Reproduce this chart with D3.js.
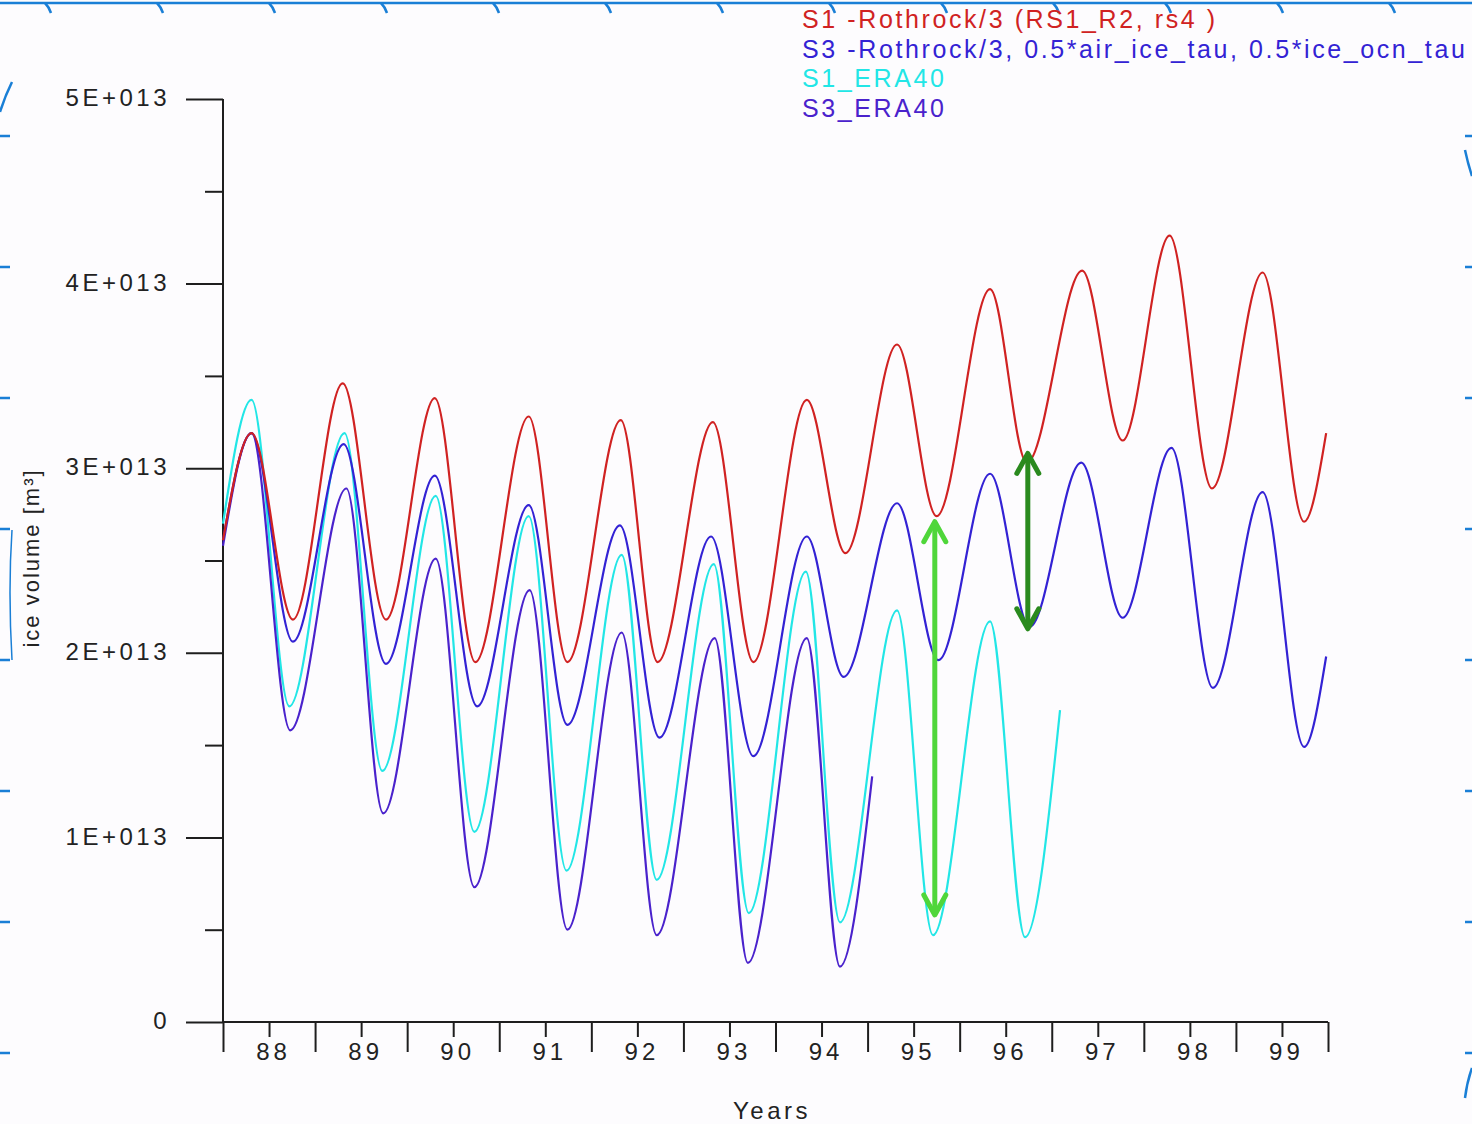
<!DOCTYPE html>
<html><head><meta charset="utf-8">
<script src="https://cdn.jsdelivr.net/npm/d3@7"></script>
<style>
html,body{margin:0;padding:0;background:#fdfcfe;}
svg{display:block;}
text{font-family:"Liberation Sans", Arial, sans-serif;}
</style></head><body>
<svg id="chart" width="1472" height="1124"></svg>
<script>
// ---------- data (values in units of 1E+013 m^3, time in decimal years) ----------
const yearTicks = [1988,1989,1990,1991,1992,1993,1994,1995,1996,1997,1998,1999,2000];
const yearLabels = ["88","89","90","91","92","93","94","95","96","97","98","99"];
const valueTicks = [0,1,2,3,4,5];
const valueLabels = ["0","1E+013","2E+013","3E+013","4E+013","5E+013"];
const valueMinorTicks = [0.5,1.5,2.5,3.5,4.5];

const seriesNames = [
  "S1 -Rothrock/3 (RS1_R2, rs4 )",
  "S3 -Rothrock/3, 0.5*air_ice_tau, 0.5*ice_ocn_tau",
  "S1_ERA40",
  "S3_ERA40"
];

const s1Rothrock = [
  [1988.00,2.61],[1988.31,3.19],[1988.76,2.18],[1989.30,3.46],[1989.77,2.18],
  [1990.30,3.38],[1990.74,1.95],[1991.32,3.28],[1991.74,1.95],[1992.32,3.26],
  [1992.72,1.95],[1993.32,3.25],[1993.76,1.95],[1994.34,3.37],[1994.76,2.54],
  [1995.32,3.67],[1995.75,2.74],[1996.33,3.97],[1996.73,3.03],[1997.33,4.07],
  [1997.77,3.15],[1998.28,4.26],[1998.74,2.89],[1999.29,4.06],[1999.74,2.71],
  [1999.98,3.19]
];
const s3Rothrock = [
  [1988.00,2.61],[1988.31,3.19],[1988.76,2.06],[1989.31,3.13],[1989.77,1.94],
  [1990.30,2.96],[1990.76,1.71],[1991.32,2.80],[1991.74,1.61],[1992.31,2.69],
  [1992.74,1.54],[1993.30,2.63],[1993.76,1.44],[1994.34,2.63],[1994.74,1.87],
  [1995.32,2.81],[1995.77,1.96],[1996.33,2.97],[1996.76,2.14],[1997.32,3.03],
  [1997.77,2.19],[1998.30,3.11],[1998.75,1.81],[1999.29,2.87],[1999.74,1.49],
  [1999.98,1.98]
];
const s1Era40 = [
  [1988.00,2.70],[1988.31,3.37],[1988.72,1.71],[1989.32,3.19],[1989.73,1.36],
  [1990.31,2.85],[1990.73,1.03],[1991.32,2.74],[1991.73,0.82],[1992.33,2.53],
  [1992.71,0.77],[1993.33,2.48],[1993.71,0.59],[1994.33,2.44],[1994.70,0.54],
  [1995.32,2.23],[1995.71,0.47],[1996.33,2.17],[1996.71,0.46],[1997.09,1.69]
];
const s3Era40 = [
  [1988.00,2.58],[1988.31,3.19],[1988.73,1.58],[1989.34,2.89],[1989.74,1.13],
  [1990.31,2.51],[1990.73,0.73],[1991.33,2.34],[1991.74,0.50],[1992.33,2.11],
  [1992.71,0.47],[1993.34,2.08],[1993.70,0.32],[1994.34,2.08],[1994.70,0.30],
  [1995.05,1.33]
];
// annotation arrows: [year, top value, bottom value]
const arrowLight = [1995.73, 2.71, 0.58];
const arrowDark  = [1996.74, 3.08, 2.13];

// ---------- drawing ----------
const svg = d3.select("#chart");
const W = 1472, H = 1124;
const x = d3.scaleLinear().domain([1988,2000]).range([223,1328]);
const y = d3.scaleLinear().domain([0,5]).range([1022,99]);

const AX = "#1e1e1e";
const FONT = 24;

// frame decorations (blue slide border)
const deco = svg.append("g").attr("stroke","#1a7fd6").attr("fill","none").attr("stroke-width",2.5);
deco.append("line").attr("x1",0).attr("x2",W).attr("y1",3).attr("y2",3);
d3.range(8).forEach(i=>{
  const yy = 136 + i*131;
  deco.append("line").attr("x1",0).attr("x2",10).attr("y1",yy).attr("y2",yy);
  deco.append("line").attr("x1",1465).attr("x2",W).attr("y1",yy).attr("y2",yy);
});
d3.range(13).forEach(i=>{
  const xx = 45 + i*112;
  deco.append("path").attr("d",`M${xx},3 q4,4 6,10`);
});
deco.append("path").attr("d","M0,112 q5,-16 12,-30");
deco.append("path").attr("d","M1465,150 q3,14 7,26");
deco.append("path").attr("d","M1472,1068 q-5,14 -7,30");
deco.append("path").attr("d","M12,530 q-4,60 0,130").attr("stroke-width",1.5);

// axes
const gx = svg.append("g").attr("transform","translate(0,1022)");
gx.call(d3.axisBottom(x).tickValues(yearTicks).tickSize(30).tickSizeOuter(0).tickFormat(""));
const gxm = svg.append("g").attr("transform","translate(0,1022)");
gxm.call(d3.axisBottom(x).tickValues(yearLabels.map((d,i)=>yearTicks[i]+0.5))
  .tickSize(15).tickSizeOuter(0).tickPadding(4).tickFormat((d,i)=>yearLabels[i]));
gxm.select(".domain").remove();
gx.select(".domain").remove();

const gy = svg.append("g").attr("transform","translate(223,0)");
gy.call(d3.axisLeft(y).tickValues(valueTicks).tickSize(37).tickSizeOuter(0).tickPadding(16)
  .tickFormat((d,i)=>valueLabels[i]));
const gym = svg.append("g").attr("transform","translate(223,0)");
gym.call(d3.axisLeft(y).tickValues(valueMinorTicks).tickSize(18).tickSizeOuter(0).tickFormat(""));
gym.select(".domain").remove();
gy.select(".domain").remove();

// axis lines
svg.append("line").attr("x1",x(1988)).attr("x2",x(1988)).attr("y1",y(5)).attr("y2",y(0))
  .attr("stroke",AX).attr("stroke-width",2);
svg.append("line").attr("x1",x(1988)).attr("x2",x(2000)).attr("y1",y(0)).attr("y2",y(0))
  .attr("stroke",AX).attr("stroke-width",2);

[gx,gxm,gy,gym].forEach(g=>{
  g.selectAll(".tick line").attr("stroke",AX).attr("stroke-width",2);
  g.selectAll("text").attr("font-family","Liberation Sans, Arial, sans-serif")
    .attr("font-size",FONT).attr("fill","#222");
});
gy.selectAll("text").attr("letter-spacing",3.5).attr("dy","0.28em");
gxm.selectAll("text").attr("letter-spacing",4).attr("dy","0.8em").attr("dx",4);

// axis titles
svg.append("text").attr("x",772).attr("y",1119).attr("text-anchor","middle")
  .attr("font-size",FONT).attr("letter-spacing",3.5).attr("fill","#222").text("Years");
svg.append("text").attr("transform","translate(39,558) rotate(-90)").attr("text-anchor","middle")
  .attr("font-size",22).attr("letter-spacing",2).attr("fill","#222").text("ice volume [m³]");

// series
const line = d3.line().x(d=>x(d[0])).y(d=>y(d[1])).curve(d3.curveMonotoneX);
const series = [
  {data:s1Era40, color:"#22e6e6"},
  {data:s3Era40, color:"#4a22cc"},
  {data:s3Rothrock, color:"#3322d4"},
  {data:s1Rothrock, color:"#d02222"}
];
series.forEach(s=>{
  svg.append("path").attr("d",line(s.data)).attr("fill","none")
    .attr("stroke",s.color).attr("stroke-width",2.2).attr("stroke-linejoin","round");
});

// legend
const legendColors = ["#d02222","#3322d4","#22e6e6","#4a22cc"];
seriesNames.forEach((n,i)=>{
  svg.append("text").attr("x",802).attr("y",28+i*29.7).attr("font-size",25)
    .attr("letter-spacing",2.6).attr("fill",legendColors[i]).text(n);
});

// arrows
function arrow(a,color){
  const ax = x(a[0]), yt = y(a[1]), yb = y(a[2]);
  const g = svg.append("g").attr("stroke",color).attr("stroke-width",5).attr("fill","none")
    .attr("stroke-linecap","round").attr("stroke-linejoin","round");
  g.append("line").attr("x1",ax).attr("x2",ax).attr("y1",yt+2).attr("y2",yb-2);
  g.append("polyline").attr("points",`${ax-11},${yt+20} ${ax},${yt} ${ax+11},${yt+20}`);
  g.append("polyline").attr("points",`${ax-11},${yb-20} ${ax},${yb} ${ax+11},${yb-20}`);
}
arrow(arrowLight,"#4fd63a");
arrow(arrowDark,"#2a8a1e");
</script>
</body></html>
